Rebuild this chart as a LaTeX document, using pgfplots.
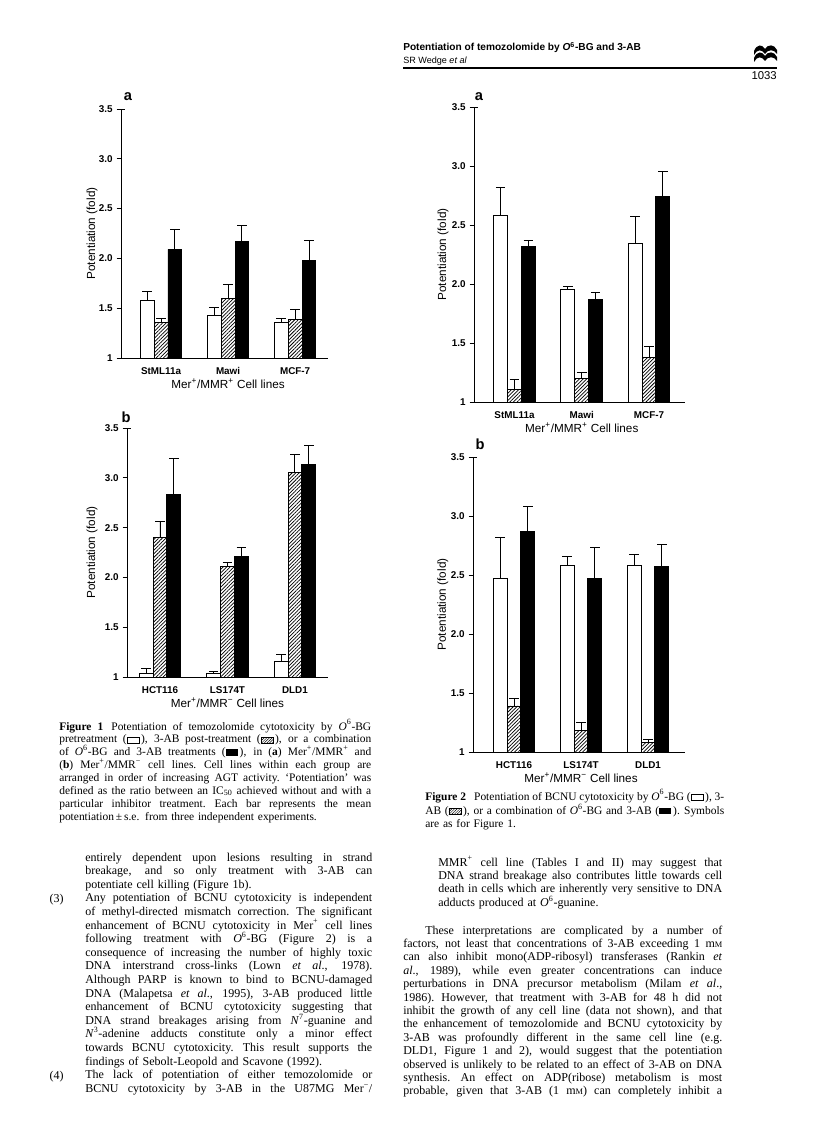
\documentclass[border=0pt]{standalone}
\usepackage{fontspec}
\setmainfont{Liberation Serif}
\setsansfont{Liberation Sans}
\usepackage{pgfplots}
\pgfplotsset{compat=1.18}
\usetikzlibrary{patterns.meta}

\pgfplotsset{
  potbase/.style={
    scale only axis, anchor=south west,
    ymin=1, ymax=3.5,
    ytick={1,1.5,2,2.5,3,3.5}, yticklabels={1,1.5,2.0,2.5,3.0,3.5},
    xtick={1,2,3},
    axis x line*=bottom, axis y line*=left,
    axis line style={line width=0.7pt},
    tick align=outside, major tick length=3.2pt,
    x tick style={draw=none},
    y tick style={line width=0.7pt, black},
    extra y ticks={3.5}, extra y tick labels={},
    extra y tick style={tick align=inside},
    tick label style={font=\sffamily\bfseries\fontsize{7.4}{8}\selectfont},
    xticklabel style={text height=5.6pt, text depth=0pt},
    yticklabel style={xshift=0.5pt},
    ylabel={Potentiation (fold)},
    label style={font=\sffamily\fontsize{8.8}{10}\selectfont},
    xlabel style={at={(axis cs:2,1)}, anchor=center, yshift=-19pt},
    ybar=0pt, bar width=10.4pt,
    error bars/y dir=plus, error bars/y explicit,
    error bars/error mark=|,
    error bars/error bar style={line width=0.7pt, black, solid},
    error bars/error mark options={black, line width=0.7pt, mark size=3.6pt},
  },
  white bar/.style={fill=white, draw=black, line width=0.7pt},
  hatch bar/.style={draw=black, line width=0.7pt,
    pattern={Lines[angle=45,distance=1.9pt,line width=0.55pt]}},
  black bar/.style={fill=black, draw=black, line width=0.7pt},
}

\newlength\Jw
% one justified line of running text
\newcommand\J[1]{\leavevmode{\spaceskip=0.25em plus 1.5em minus 0.1em
  \xspaceskip=0.3em plus 1.5em minus 0.1em\hbox to \Jw{#1}}}
\newcommand\Os{\textit{O}\textsuperscript{6}}
\newcommand\mM{m{\fontsize{6.3}{7}\selectfont M}}
\newsavebox\symW
\newsavebox\symH
\newsavebox\symB
\setlength\parindent{0pt}

\begin{document}%
\sbox\symW{\tikz[baseline=0pt]\draw[line width=0.45pt] (0,0) rectangle (9pt,4.4pt);}%
\sbox\symH{\tikz[baseline=0pt]\draw[line width=0.45pt,
  pattern={Lines[angle=45,distance=1.4pt,line width=0.35pt]}] (0,0) rectangle (9pt,4.4pt);}%
\sbox\symB{\tikz[baseline=0pt]\fill (0,0) rectangle (9pt,4.8pt);}%
\begin{tikzpicture}
\path[use as bounding box, fill=white] (0pt,0pt) rectangle (612pt,-850.5pt);

% Figure 1a  (temozolomide, Mer+/MMR+)
\begin{axis}[potbase, at={(90.75pt,-268.5pt)},
    width=155.25pt, height=186.75pt, xmin=0.403, xmax=3.49,
    xticklabels={StML11a, Mawi, MCF-7},
    xlabel={Mer\textsuperscript{+}/MMR\textsuperscript{+} Cell lines},
    ylabel style={at={(axis description cs:-0.14,0.5)}, anchor=center}]
  \addplot[white bar] coordinates {(1,1.58) +- (0,0.09) (2,1.43) +- (0,0.08) (3,1.36) +- (0,0.04)};
  \addplot[hatch bar] coordinates {(1,1.36) +- (0,0.04) (2,1.60) +- (0,0.14) (3,1.39) +- (0,0.10)};
  \addplot[black bar] coordinates {(1,2.09) +- (0,0.20) (2,2.17) +- (0,0.16) (3,1.98) +- (0,0.20)};
\end{axis}

% Figure 1b  (temozolomide, Mer+/MMR-)
\begin{axis}[potbase, at={(95.25pt,-507.75pt)},
    width=150.75pt, height=186.75pt, xmin=0.511, xmax=3.49,
    xticklabels={HCT116, LS174T, DLD1},
    xlabel={Mer\textsuperscript{+}/MMR\textsuperscript{−} Cell lines},
    ylabel style={at={(axis description cs:-0.174,0.5)}, anchor=center}]
  \addplot[white bar] coordinates {(1,1.04) +- (0,0.05) (2,1.04) +- (0,0.02) (3,1.16) +- (0,0.07)};
  \addplot[hatch bar] coordinates {(1,2.40) +- (0,0.16) (2,2.11) +- (0,0.04) (3,3.05) +- (0,0.18)};
  \addplot[black bar] coordinates {(1,2.83) +- (0,0.36) (2,2.21) +- (0,0.09) (3,3.13) +- (0,0.19)};
\end{axis}

% Figure 2a  (BCNU, Mer+/MMR+)
\begin{axis}[potbase, at={(355.5pt,-301.5pt)},
    width=158.25pt, height=221.25pt, xmin=0.398, xmax=3.535,
    xticklabels={StML11a, Mawi, MCF-7},
    xlabel={Mer\textsuperscript{+}/MMR\textsuperscript{+} Cell lines},
    ylabel style={at={(axis description cs:-0.147,0.5)}, anchor=center}]
  \addplot[white bar] coordinates {(1,2.58) +- (0,0.24) (2,1.95) +- (0,0.03) (3,2.34) +- (0,0.23)};
  \addplot[hatch bar] coordinates {(1,1.11) +- (0,0.08) (2,1.20) +- (0,0.05) (3,1.38) +- (0,0.09)};
  \addplot[black bar] coordinates {(1,2.32) +- (0,0.05) (2,1.87) +- (0,0.06) (3,2.74) +- (0,0.21)};
\end{axis}

% Figure 2b  (BCNU, Mer+/MMR-)
\begin{axis}[potbase, at={(354.75pt,-564pt)},
    width=159pt, height=221.25pt, xmin=0.388, xmax=3.552,
    xticklabels={HCT116, LS174T, DLD1},
    xlabel={Mer\textsuperscript{+}/MMR\textsuperscript{−} Cell lines},
    ylabel style={at={(axis description cs:-0.142,0.5)}, anchor=center}]
  \addplot[white bar] coordinates {(1,2.47) +- (0,0.35) (2,2.58) +- (0,0.08) (3,2.58) +- (0,0.09)};
  \addplot[hatch bar] coordinates {(1,1.39) +- (0,0.06) (2,1.18) +- (0,0.07) (3,1.08) +- (0,0.03)};
  \addplot[black bar] coordinates {(1,2.87) +- (0,0.21) (2,2.47) +- (0,0.26) (3,2.57) +- (0,0.19)};
\end{axis}

\begin{scope}[x=0.75pt,y=-0.75pt, every node/.style={inner sep=0pt}]
  % panel letters
  \begin{scope}[every node/.append style={font=\sffamily\bfseries\fontsize{11}{12}\selectfont}]
    \node at (128,97) {a};
    \node at (126,417) {b};
    \node at (479,97) {a};
    \node at (480,444) {b};
  \end{scope}

  % running head
  \node[anchor=base west, font=\sffamily\bfseries\fontsize{7.6}{8}\selectfont] at (403,51)
    {Potentiation of temozolomide by \textit{O}\textsuperscript{6}-BG and 3-AB};
  \node[anchor=base west, font=\sffamily\fontsize{6.8}{7}\selectfont] at (403,64)
    {SR Wedge \textit{et al}};
  \draw[line width=0.8pt] (403,68) -- (777,68);
  \node[anchor=base east, font=\sffamily\fontsize{8.5}{9}\selectfont] at (777,80) {1033};
  \fill (754,51) .. controls (757,44) and (762,44) .. (765,49)
       .. controls (768,44) and (774,44) .. (777,50) -- (777,54)
       .. controls (774,49) and (768,49) .. (765,54)
       .. controls (762,49) and (757,49) .. (754,55) -- cycle;
  \fill (754,58) .. controls (757,51) and (762,51) .. (765,56)
       .. controls (768,51) and (774,51) .. (777,57) -- (777,61)
       .. controls (774,56) and (768,56) .. (765,61)
       .. controls (762,56) and (757,56) .. (754,62) -- cycle;

  % Figure 1 caption
  \node[anchor=base west, text width=234pt, align=left,
        font=\fontsize{8.6}{9.65}\selectfont] at (59,730) {\setlength\Jw{234pt}%
    \J{\textbf{Figure 1}\hspace{0.7em}Potentiation of temozolomide cytotoxicity by \Os-BG}\\
    \J{pretreatment (\usebox\symW\,), 3-AB post-treatment (\usebox\symH\,), or a combination}\\
    \J{of \Os-BG and 3-AB treatments (\usebox\symB\,), in (\textbf{a}) Mer\textsuperscript{+}/MMR\textsuperscript{+} and}\\
    \J{(\textbf{b}) Mer\textsuperscript{+}/MMR\textsuperscript{−} cell lines. Cell lines within each group are}\\
    \J{arranged in order of increasing AGT activity. ‘Potentiation’ was}\\
    \J{defined as the ratio between an IC\textsubscript{50} achieved without and with a}\\
    \J{particular inhibitor treatment. Each bar represents the mean}\\
    potentiation\,±\,s.e. from three independent experiments.};

  % Figure 2 caption
  \node[anchor=base west, text width=224.25pt, align=left,
        font=\fontsize{8.6}{9.65}\selectfont] at (425,800) {\setlength\Jw{224.25pt}%
    \J{\textbf{Figure 2}\hspace{0.7em}Potentiation of BCNU cytotoxicity by \Os-BG (\usebox\symW\,), 3-}\\
    \J{AB (\usebox\symH\,), or a combination of \Os-BG and 3-AB (\usebox\symB\,). Symbols}\\
    are as for Figure 1.};

  % left column text
  \node[anchor=base east, font=\fontsize{9}{10.2}\selectfont] at (64,902) {(3)};
  \node[anchor=base east, font=\fontsize{9}{10.2}\selectfont] at (64,1079) {(4)};
  \node[anchor=base west, text width=215.25pt, align=left,
        font=\fontsize{9}{10.2}\selectfont] at (85,861) {\setlength\Jw{215.25pt}%
    \J{entirely dependent upon lesions resulting in strand}\\
    \J{breakage, and so only treatment with 3-AB can}\\
    potentiate cell killing (Figure 1b).\\
    \J{Any potentiation of BCNU cytotoxicity is independent}\\
    \J{of methyl-directed mismatch correction. The significant}\\
    \J{enhancement of BCNU cytotoxicity in Mer\textsuperscript{+} cell lines}\\
    \J{following treatment with \Os-BG (Figure 2) is a}\\
    \J{consequence of increasing the number of highly toxic}\\
    \J{DNA interstrand cross-links (Lown \textit{et al}., 1978).}\\
    \J{Although PARP is known to bind to BCNU-damaged}\\
    \J{DNA (Malapetsa \textit{et al}., 1995), 3-AB produced little}\\
    \J{enhancement of BCNU cytotoxicity suggesting that}\\
    \J{DNA strand breakages arising from \textit{N}\textsuperscript{7}-guanine and}\\
    \J{\textit{N}\textsuperscript{3}-adenine adducts constitute only a minor effect}\\
    \J{towards BCNU cytotoxicity. This result supports the}\\
    findings of Sebolt-Leopold and Scavone (1992).\\
    \J{The lack of potentiation of either temozolomide or}\\
    \J{BCNU cytotoxicity by 3-AB in the U87MG Mer\textsuperscript{−}/}};

  % right column text
  \node[anchor=base west, text width=213pt, align=left,
        font=\fontsize{9}{10.05}\selectfont] at (438,866) {\setlength\Jw{213pt}%
    \J{MMR\textsuperscript{+} cell line (Tables I and II) may suggest that}\\
    \J{DNA strand breakage also contributes little towards cell}\\
    \J{death in cells which are inherently very sensitive to DNA}\\
    adducts produced at \Os-guanine.};
  \node[anchor=base west, text width=239.25pt, align=left,
        font=\fontsize{9}{10.05}\selectfont] at (403,934) {\setlength\Jw{239.25pt}%
    \J{\hspace{16.5pt}These interpretations are complicated by a number of}\\
    \J{factors, not least that concentrations of 3-AB exceeding 1 \mM}\\
    \J{can also inhibit mono(ADP-ribosyl) transferases (Rankin \textit{et}}\\
    \J{\textit{al}., 1989), while even greater concentrations can induce}\\
    \J{perturbations in DNA precursor metabolism (Milam \textit{et al}.,}\\
    \J{1986). However, that treatment with 3-AB for 48 h did not}\\
    \J{inhibit the growth of any cell line (data not shown), and that}\\
    \J{the enhancement of temozolomide and BCNU cytotoxicity by}\\
    \J{3-AB was profoundly different in the same cell line (e.g.}\\
    \J{DLD1, Figure 1 and 2), would suggest that the potentiation}\\
    \J{observed is unlikely to be related to an effect of 3-AB on DNA}\\
    \J{synthesis. An effect on ADP(ribose) metabolism is most}\\
    \J{probable, given that 3-AB (1 \mM) can completely inhibit a}};
\end{scope}
\end{tikzpicture}%
\end{document}
